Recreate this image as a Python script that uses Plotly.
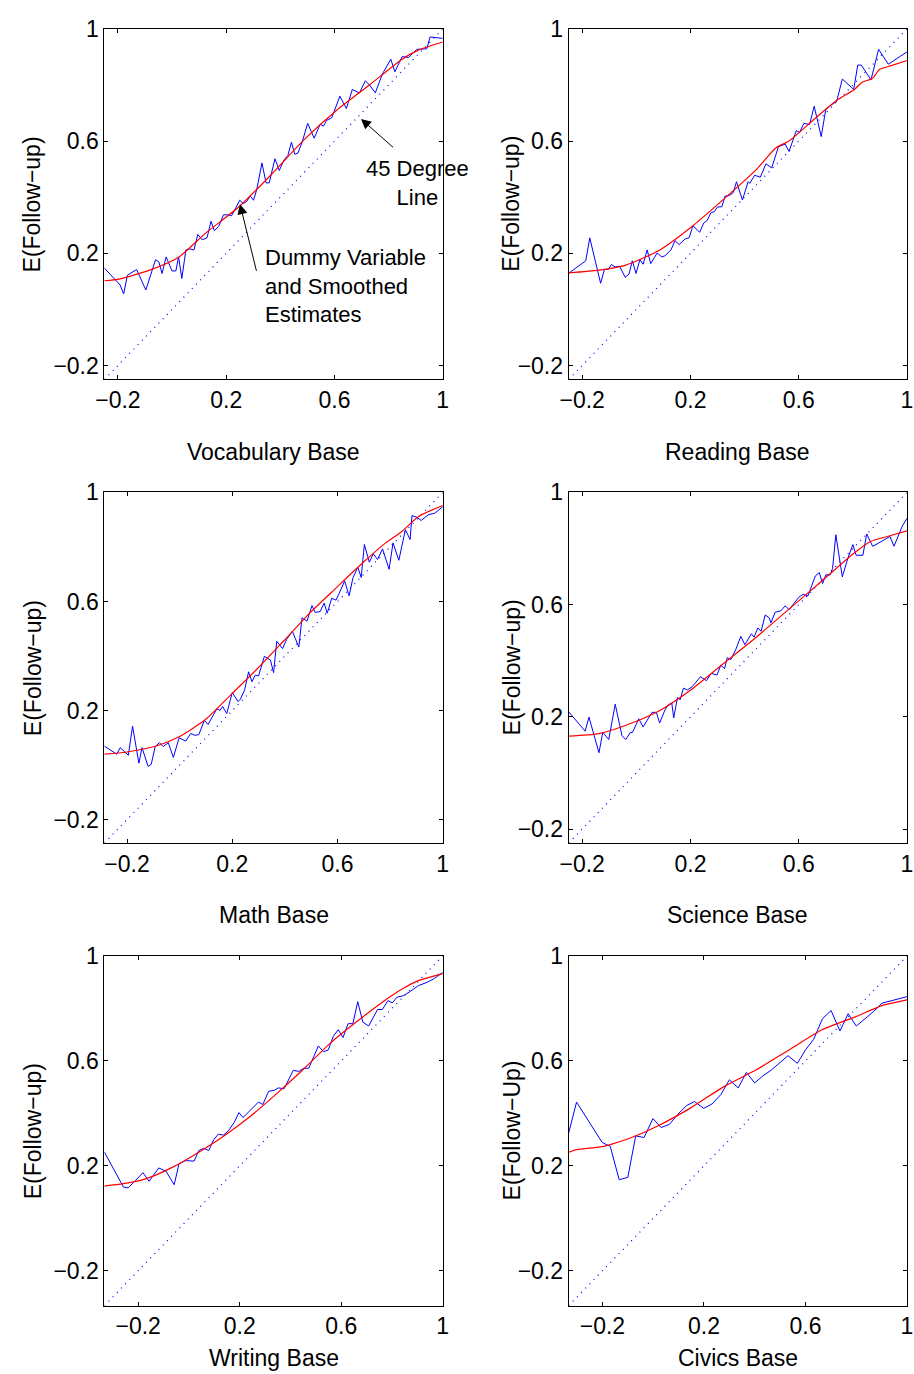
import plotly.graph_objects as go

# ---------------- data ----------------
# Vocabulary
vocab_x = [-0.251, -0.192, -0.179, -0.165, -0.131, -0.097, -0.061, -0.049, -0.037, -0.022,
           -0.000, 0.014, 0.024, 0.036, 0.051, 0.063, 0.081, 0.095, 0.111, 0.129,
           0.144, 0.156, 0.172, 0.190, 0.206, 0.220, 0.250, 0.263, 0.275, 0.289,
           0.301, 0.313, 0.332, 0.347, 0.359, 0.380, 0.396, 0.414, 0.428, 0.441,
           0.453, 0.465, 0.481, 0.501, 0.525, 0.547, 0.559, 0.571, 0.590, 0.620,
           0.644, 0.666, 0.692, 0.714, 0.729, 0.751, 0.777, 0.808, 0.823, 0.850,
           0.874, 0.904, 0.941, 0.953, 1.0]
vocab_dummy = [0.148, 0.087, 0.055, 0.122, 0.142, 0.069, 0.177, 0.169, 0.128, 0.187,
               0.137, 0.137, 0.187, 0.110, 0.212, 0.216, 0.212, 0.267, 0.248, 0.255,
               0.314, 0.281, 0.295, 0.337, 0.337, 0.334, 0.389, 0.377, 0.384, 0.404,
               0.389, 0.428, 0.522, 0.451, 0.451, 0.537, 0.495, 0.533, 0.549, 0.596,
               0.553, 0.557, 0.598, 0.663, 0.610, 0.660, 0.653, 0.674, 0.683, 0.760,
               0.716, 0.784, 0.771, 0.815, 0.800, 0.772, 0.839, 0.892, 0.847, 0.901,
               0.898, 0.927, 0.929, 0.971, 0.966]
vocab_sx = [-0.251, -0.192, -0.083, 0.026, 0.123, 0.244, 0.366, 0.487, 0.608, 0.729, 0.850, 0.910, 1.0]
vocab_smooth = [0.102, 0.109, 0.140, 0.187, 0.271, 0.363, 0.480, 0.604, 0.710, 0.800, 0.892, 0.924, 0.953]

# Reading
read_x = [-0.251, -0.187, -0.172, -0.132, -0.118, -0.104, -0.092, -0.078, -0.062, -0.041,
          -0.027, -0.015, -0.001, 0.013, 0.025, 0.040, 0.053, 0.077, 0.094, 0.106,
          0.128, 0.143, 0.158, 0.180, 0.195, 0.209, 0.234, 0.249, 0.261, 0.276,
          0.288, 0.300, 0.316, 0.328, 0.344, 0.358, 0.370, 0.392, 0.413, 0.419,
          0.437, 0.458, 0.479, 0.500, 0.525, 0.550, 0.564, 0.576, 0.591, 0.603,
          0.619, 0.640, 0.657, 0.683, 0.700, 0.722, 0.740, 0.761, 0.803, 0.818,
          0.831, 0.867, 0.895, 0.931, 1.0]
read_dummy = [0.128, 0.173, 0.255, 0.093, 0.142, 0.142, 0.160, 0.151, 0.154, 0.114,
              0.126, 0.173, 0.128, 0.177, 0.161, 0.212, 0.163, 0.201, 0.187, 0.191,
              0.212, 0.245, 0.231, 0.251, 0.255, 0.298, 0.275, 0.308, 0.316, 0.345,
              0.348, 0.365, 0.366, 0.404, 0.406, 0.416, 0.455, 0.390, 0.455, 0.449,
              0.478, 0.471, 0.519, 0.504, 0.580, 0.589, 0.563, 0.598, 0.637, 0.631,
              0.663, 0.659, 0.724, 0.616, 0.713, 0.730, 0.741, 0.821, 0.784, 0.871,
              0.871, 0.818, 0.927, 0.874, 0.918]
read_sx = [-0.251, -0.138, -0.041, 0.080, 0.201, 0.322, 0.443, 0.516, 0.564, 0.662, 0.742,
           0.807, 0.833, 0.873, 0.898, 0.942, 1.0]
read_smooth = [0.130, 0.140, 0.157, 0.208, 0.292, 0.392, 0.498, 0.576, 0.600, 0.682, 0.746,
               0.785, 0.809, 0.824, 0.855, 0.869, 0.887]

# Math
math_x = [-0.287, -0.239, -0.226, -0.195, -0.179, -0.155, -0.143, -0.120, -0.108, -0.093,
          -0.077, -0.062, -0.043, -0.024, -0.002, 0.023, 0.042, 0.058, 0.073, 0.094,
          0.108, 0.123, 0.141, 0.154, 0.163, 0.179, 0.200, 0.222, 0.231, 0.247,
          0.262, 0.275, 0.287, 0.300, 0.322, 0.345, 0.357, 0.369, 0.391, 0.406,
          0.428, 0.453, 0.465, 0.484, 0.503, 0.515, 0.534, 0.549, 0.561, 0.578,
          0.594, 0.606, 0.627, 0.644, 0.659, 0.677, 0.690, 0.702, 0.721, 0.736,
          0.752, 0.771, 0.796, 0.811, 0.833, 0.858, 0.876, 0.883, 0.902, 0.918,
          0.945, 0.970, 1.0]
math_dummy = [0.070, 0.040, 0.064, 0.036, 0.143, 0.007, 0.064, -0.005, 0.003, 0.068,
              0.082, 0.068, 0.082, 0.028, 0.100, 0.088, 0.116, 0.109, 0.112, 0.164,
              0.149, 0.177, 0.206, 0.201, 0.215, 0.189, 0.266, 0.233, 0.242, 0.276,
              0.342, 0.306, 0.330, 0.327, 0.399, 0.385, 0.339, 0.454, 0.427, 0.460,
              0.491, 0.433, 0.540, 0.528, 0.585, 0.560, 0.563, 0.594, 0.557, 0.612,
              0.605, 0.629, 0.675, 0.621, 0.688, 0.726, 0.688, 0.809, 0.744, 0.775,
              0.754, 0.793, 0.718, 0.815, 0.751, 0.863, 0.827, 0.915, 0.909, 0.897,
              0.918, 0.924, 0.948]
math_sx = [-0.287, -0.201, -0.089, -0.002, 0.098, 0.198, 0.297, 0.397, 0.497, 0.596, 0.696, 0.783, 0.845, 0.908, 1.0]
math_smooth = [0.040, 0.048, 0.070, 0.104, 0.167, 0.261, 0.355, 0.457, 0.560, 0.651, 0.742, 0.815, 0.857, 0.912, 0.952]

# Science
sci_x = [-0.251, -0.189, -0.175, -0.138, -0.124, -0.102, -0.078, -0.053, -0.039, -0.023,
         -0.014, 0.009, 0.025, 0.040, 0.058, 0.074, 0.086, 0.106, 0.118, 0.131,
         0.138, 0.152, 0.162, 0.174, 0.189, 0.207, 0.237, 0.259, 0.277, 0.298,
         0.312, 0.326, 0.336, 0.349, 0.367, 0.386, 0.401, 0.425, 0.435, 0.449,
         0.461, 0.476, 0.491, 0.497, 0.513, 0.534, 0.550, 0.564, 0.600, 0.616,
         0.634, 0.661, 0.676, 0.688, 0.700, 0.716, 0.725, 0.737, 0.761, 0.782,
         0.800, 0.812, 0.837, 0.851, 0.873, 0.889, 0.915, 0.937, 0.952, 0.982,
         1.0]
sci_dummy = [0.219, 0.149, 0.199, 0.072, 0.145, 0.119, 0.245, 0.133, 0.119, 0.143,
             0.145, 0.193, 0.164, 0.186, 0.216, 0.216, 0.178, 0.225, 0.243, 0.249,
             0.196, 0.269, 0.261, 0.302, 0.296, 0.308, 0.343, 0.329, 0.355, 0.349,
             0.384, 0.372, 0.411, 0.404, 0.439, 0.487, 0.457, 0.496, 0.484, 0.517,
             0.505, 0.563, 0.553, 0.535, 0.573, 0.578, 0.596, 0.582, 0.626, 0.637,
             0.631, 0.702, 0.714, 0.675, 0.706, 0.706, 0.729, 0.849, 0.699, 0.767,
             0.814, 0.776, 0.776, 0.852, 0.808, 0.816, 0.832, 0.843, 0.808, 0.879,
             0.908]
sci_sx = [-0.251, -0.138, -0.041, 0.080, 0.201, 0.322, 0.443, 0.564, 0.685, 0.806, 0.867, 0.927, 1.0]
sci_smooth = [0.131, 0.140, 0.169, 0.219, 0.296, 0.390, 0.484, 0.584, 0.684, 0.785, 0.826, 0.843, 0.863]

# Writing
writ_x = [-0.334, -0.258, -0.239, -0.181, -0.157, -0.119, -0.090, -0.058, -0.039, -0.013,
          0.020, 0.039, 0.058, 0.078, 0.097, 0.116, 0.136, 0.155, 0.178, 0.197,
          0.213, 0.239, 0.256, 0.274, 0.291, 0.314, 0.336, 0.352, 0.375, 0.411,
          0.433, 0.452, 0.472, 0.510, 0.530, 0.549, 0.569, 0.588, 0.607, 0.627,
          0.646, 0.665, 0.685, 0.708, 0.743, 0.762, 0.784, 0.801, 0.820, 0.846,
          0.872, 0.904, 0.937, 0.963, 1.0]
writ_dummy = [0.254, 0.119, 0.116, 0.174, 0.141, 0.192, 0.179, 0.128, 0.208, 0.220,
              0.218, 0.258, 0.267, 0.258, 0.299, 0.321, 0.317, 0.333, 0.365, 0.403,
              0.384, 0.409, 0.428, 0.443, 0.434, 0.484, 0.488, 0.497, 0.494, 0.564,
              0.560, 0.572, 0.572, 0.657, 0.635, 0.642, 0.694, 0.719, 0.689, 0.742,
              0.742, 0.826, 0.748, 0.733, 0.796, 0.796, 0.830, 0.821, 0.843, 0.849,
              0.865, 0.887, 0.899, 0.912, 0.937]
writ_sx = [-0.334, -0.258, -0.168, -0.064, 0.039, 0.142, 0.246, 0.349, 0.452, 0.556, 0.659, 0.762, 0.840, 0.904, 1.0]
writ_smooth = [0.123, 0.132, 0.151, 0.195, 0.252, 0.317, 0.392, 0.478, 0.569, 0.667, 0.748, 0.824, 0.874, 0.906, 0.933]

# Civics
civ_x = [-0.334, -0.302, -0.201, -0.169, -0.134, -0.100, -0.069, -0.036, -0.001, 0.031,
         0.064, 0.096, 0.132, 0.163, 0.199, 0.232, 0.267, 0.300, 0.335, 0.367,
         0.400, 0.432, 0.464, 0.497, 0.531, 0.568, 0.600, 0.632, 0.667, 0.701,
         0.736, 0.768, 0.800, 0.835, 0.869, 0.901, 1.0]
civ_dummy = [0.321, 0.443, 0.289, 0.274, 0.147, 0.156, 0.314, 0.308, 0.380, 0.346,
             0.358, 0.396, 0.430, 0.445, 0.419, 0.436, 0.472, 0.528, 0.497, 0.556,
             0.516, 0.543, 0.564, 0.591, 0.620, 0.591, 0.642, 0.682, 0.761, 0.792,
             0.714, 0.780, 0.733, 0.761, 0.789, 0.820, 0.845]
civ_sx = [-0.334, -0.302, -0.201, -0.163, -0.085, 0.018, 0.148, 0.277, 0.406, 0.535, 0.665, 0.794, 0.901, 1.0]
civ_smooth = [0.252, 0.262, 0.273, 0.283, 0.308, 0.352, 0.421, 0.501, 0.566, 0.642, 0.719, 0.767, 0.811, 0.833]

tick_vals = [-0.2, 0.2, 0.6, 1]
tick_text = ["\u22120.2", "0.2", "0.6", "1"]

x_titles = ["Vocabulary Base", "Reading Base", "Math Base", "Science Base", "Writing Base", "Civics Base"]
y_titles = ["E(Follow\u2212up)"] * 5 + ["E(Follow\u2212Up)"]

# ---------------- layout / styling ----------------
W, H = 914, 1374
FONT = "Liberation Sans, Arial, Helvetica, sans-serif"

cols = [(97, 441), (569, 913)]
rows = [(16, 370), (484, 838), (952, 1305)]

panels = [
    dict(x=vocab_x, d=vocab_dummy, sx=vocab_sx, s=vocab_smooth, rng=[-0.25, 1]),
    dict(x=read_x, d=read_dummy, sx=read_sx, s=read_smooth, rng=[-0.25, 1]),
    dict(x=math_x, d=math_dummy, sx=math_sx, s=math_smooth, rng=[-0.286, 1]),
    dict(x=sci_x, d=sci_dummy, sx=sci_sx, s=sci_smooth, rng=[-0.25, 1]),
    dict(x=writ_x, d=writ_dummy, sx=writ_sx, s=writ_smooth, rng=[-0.333, 1]),
    dict(x=civ_x, d=civ_dummy, sx=civ_sx, s=civ_smooth, rng=[-0.333, 1]),
]
xtitle_shift = [-73, -73, -72, -72, -52, -52]
ytitle_shift = [-72, -57, -72, -57, -72, -57]

fig = go.Figure()
annotations = []
layout = dict(width=W, height=H, autosize=False,
              margin=dict(l=0, r=0, t=0, b=0, pad=0),
              paper_bgcolor="white", plot_bgcolor="white",
              showlegend=False, font=dict(family=FONT, size=23, color="black"))

for i, p in enumerate(panels):
    r, c = divmod(i, 2)
    n = "" if i == 0 else str(i + 1)
    xa, ya = "x" + n, "y" + n
    x0, x1 = cols[c]
    y0, y1 = rows[r]
    axis_common = dict(range=p["rng"], tickvals=tick_vals, ticktext=tick_text,
                       ticks="inside", ticklen=4, tickwidth=1, tickcolor="black",
                       showline=True, linecolor="black", linewidth=1, mirror="ticks",
                       showgrid=False, zeroline=False,
                       tickfont=dict(family=FONT, size=23, color="black"))
    layout["xaxis" + n] = dict(axis_common, domain=[x0 / W, x1 / W], anchor=ya)
    layout["yaxis" + n] = dict(axis_common, domain=[1 - y1 / H, 1 - y0 / H], anchor=xa)

    lo, hi = p["rng"]
    # 45 degree line
    fig.add_trace(go.Scatter(x=[lo, hi], y=[lo, hi], mode="lines", xaxis=xa, yaxis=ya,
                             line=dict(color="#0000ff", width=1.2, dash="1px,5px"),
                             hoverinfo="skip"))
    # dummy variable estimates
    fig.add_trace(go.Scatter(x=p["x"], y=p["d"], mode="lines", xaxis=xa, yaxis=ya,
                             line=dict(color="#0000ff", width=1)))
    # smoothed estimates
    fig.add_trace(go.Scatter(x=p["sx"], y=p["s"], mode="lines", xaxis=xa, yaxis=ya,
                             line=dict(color="#ff0000", width=1.2, shape="spline", smoothing=0.6)))

    annotations.append(dict(text=x_titles[i], xref=xa + " domain", yref=ya + " domain",
                             x=0.5, y=0, yshift=xtitle_shift[i], xanchor="center", yanchor="middle",
                             showarrow=False, font=dict(family=FONT, size=23, color="black")))
    annotations.append(dict(text=y_titles[i], xref=xa + " domain", yref=ya + " domain",
                             x=0, y=0.5, xshift=ytitle_shift[i], xanchor="center", yanchor="middle",
                             textangle=-90, showarrow=False,
                             font=dict(family=FONT, size=23, color="black")))

# panel-1 annotations
ann_font = dict(family=FONT, size=22, color="black")
annotations += [
    dict(x=0.698, y=0.679, ax=0.822, ay=0.573, xref="x", yref="y", axref="x", ayref="y",
         text="", showarrow=True, arrowhead=2, arrowsize=2, arrowwidth=1, arrowcolor="black"),
    dict(x=0.251, y=0.375, ax=0.313, ay=0.132, xref="x", yref="y", axref="x", ayref="y",
         text="", showarrow=True, arrowhead=2, arrowsize=2, arrowwidth=1, arrowcolor="black"),
    dict(x=0.905, y=0.449, xref="x", yref="y", text="45 Degree<br>Line", showarrow=False,
         xanchor="center", yanchor="middle", align="center", font=ann_font),
    dict(x=0.335, y=0.082, xref="x", yref="y", text="Dummy Variable<br>and Smoothed<br>Estimates",
         showarrow=False, xanchor="left", yanchor="middle", align="left", font=ann_font),
]
layout["annotations"] = annotations
fig.update_layout(**layout)
fig.write_html("out.html",
               config={"displayModeBar": False, "staticPlot": True},
               post_script="document.body.style.margin='0px';"
                           "document.body.style.padding='0px';"
                           "document.body.style.overflow='hidden';")
